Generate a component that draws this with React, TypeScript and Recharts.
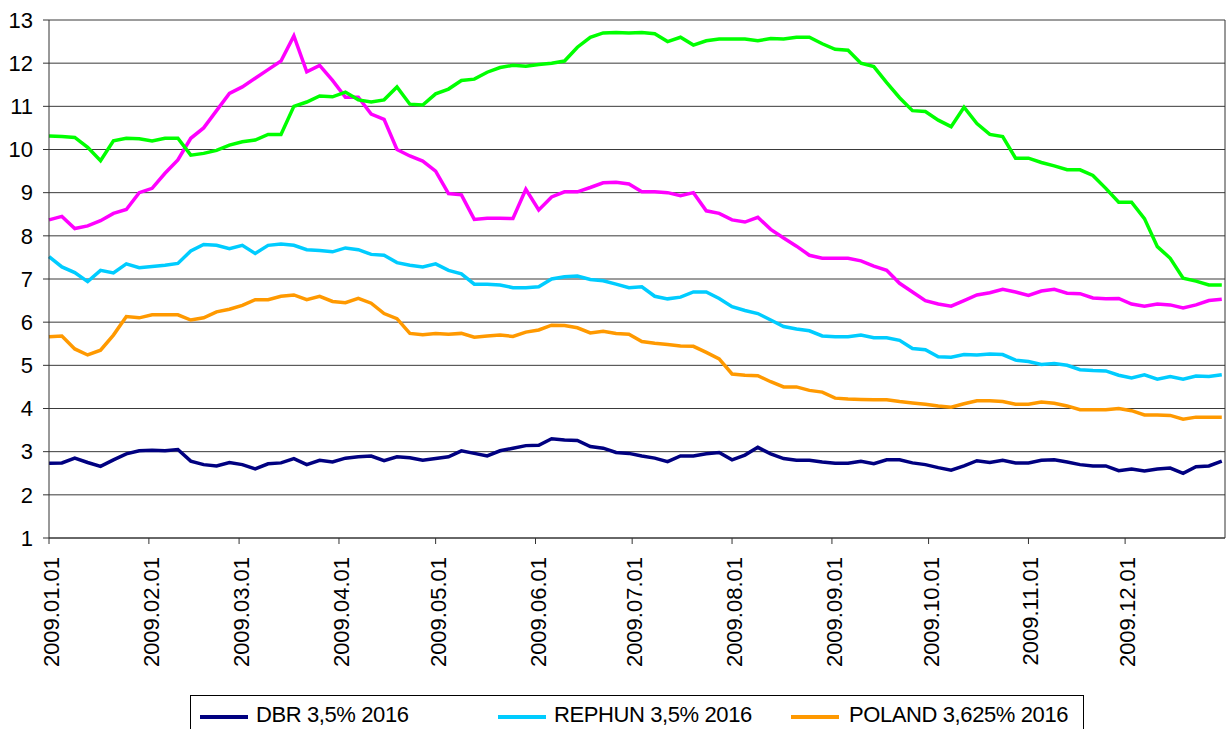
import React from 'react'
import { LineChart, Line, XAxis, YAxis, CartesianGrid, ReferenceLine } from 'recharts'

// day of year (2009), sampled every 4 days
const days = [
  0, 4, 8, 12, 16, 20, 24, 28, 32, 36, 40, 44, 48, 52, 56, 60, 64, 68, 72, 76, 80, 84, 88, 92,
  96, 100, 104, 108, 112, 116, 120, 124, 128, 132, 136, 140, 144, 148, 152, 156, 160, 164, 168, 172,
  176, 180, 184, 188, 192, 196, 200, 204, 208, 212, 216, 220, 224, 228, 232, 236, 240, 244, 248, 252,
  256, 260, 264, 268, 272, 276, 280, 284, 288, 292, 296, 300, 304, 308, 312, 316, 320, 324, 328, 332,
  336, 340, 344, 348, 352, 356, 360, 364,
]

const monthTicks = [0, 31, 59, 90, 120, 151, 181, 212, 243, 273, 304, 334]
const monthLabels = [
  '2009.01.01', '2009.02.01', '2009.03.01', '2009.04.01', '2009.05.01', '2009.06.01',
  '2009.07.01', '2009.08.01', '2009.09.01', '2009.10.01', '2009.11.01', '2009.12.01',
]
const yTicks = [1, 2, 3, 4, 5, 6, 7, 8, 9, 10, 11, 12, 13]

const dbr = [
  2.73, 2.74, 2.85, 2.75, 2.66, 2.81, 2.95, 3.02, 3.03, 3.02, 3.05, 2.78, 2.7, 2.67, 2.75, 2.7, 2.6, 2.72, 2.74, 2.84, 2.7, 2.8, 2.76, 2.85,
  2.88, 2.9, 2.79, 2.88, 2.86, 2.8, 2.84, 2.88, 3.02, 2.96, 2.9, 3.02, 3.08, 3.14, 3.15, 3.3, 3.27, 3.26, 3.12, 3.08,
  2.98, 2.96, 2.9, 2.85, 2.77, 2.9, 2.9, 2.95, 2.98, 2.81, 2.92, 3.1, 2.95, 2.84, 2.8, 2.8, 2.76, 2.73, 2.73, 2.78,
  2.72, 2.81, 2.81, 2.74, 2.7, 2.63, 2.57, 2.67, 2.79, 2.75, 2.8, 2.74, 2.74, 2.8, 2.81, 2.76, 2.7, 2.67, 2.67, 2.56,
  2.6, 2.55, 2.6, 2.62, 2.5, 2.65, 2.67, 2.78,
]

const rephun = [
  7.52, 7.28, 7.15, 6.94, 7.2, 7.14, 7.35, 7.26, 7.29, 7.32, 7.36, 7.65, 7.8, 7.78, 7.7, 7.78, 7.59, 7.78, 7.81, 7.78, 7.68, 7.66, 7.63, 7.72,
  7.68, 7.57, 7.55, 7.38, 7.32, 7.28, 7.35, 7.2, 7.12, 6.88, 6.88, 6.86, 6.8, 6.8, 6.82, 7.0, 7.05, 7.07, 6.99, 6.96,
  6.88, 6.8, 6.82, 6.6, 6.54, 6.58, 6.7, 6.7, 6.55, 6.36, 6.27, 6.2, 6.05, 5.9, 5.84, 5.8, 5.68, 5.66, 5.66, 5.7,
  5.64, 5.64, 5.58, 5.39, 5.36, 5.2, 5.19, 5.25, 5.24, 5.26, 5.25, 5.12, 5.09, 5.02, 5.04, 5.0, 4.9, 4.88, 4.87, 4.77,
  4.71, 4.78, 4.68, 4.74, 4.68, 4.75, 4.74, 4.78,
]

const poland = [
  5.66, 5.68, 5.38, 5.24, 5.35, 5.7, 6.13, 6.1, 6.17, 6.17, 6.17, 6.05, 6.1, 6.24, 6.3, 6.39, 6.52, 6.52, 6.6, 6.63, 6.52, 6.6, 6.48, 6.45,
  6.55, 6.44, 6.2, 6.08, 5.74, 5.71, 5.74, 5.72, 5.74, 5.65, 5.68, 5.7, 5.67, 5.77, 5.82, 5.93, 5.92, 5.87, 5.75, 5.79,
  5.74, 5.72, 5.55, 5.51, 5.48, 5.45, 5.44, 5.3, 5.15, 4.8, 4.77, 4.76, 4.62, 4.5, 4.5, 4.42, 4.38, 4.24, 4.22, 4.21,
  4.2, 4.2, 4.16, 4.13, 4.1, 4.06, 4.03, 4.11, 4.18, 4.18, 4.16, 4.1, 4.1, 4.15, 4.12, 4.06, 3.97, 3.97, 3.97, 4.0,
  3.95, 3.85, 3.85, 3.84, 3.75, 3.8, 3.8, 3.8,
]

// two more series whose legend entries fall outside the picture
const greenSeries = [
  10.31, 10.3, 10.28, 10.05, 9.74, 10.2, 10.26, 10.25, 10.2, 10.26, 10.26, 9.87, 9.91, 9.98, 10.1, 10.18, 10.22, 10.35, 10.35, 11.0, 11.1, 11.24, 11.22, 11.33,
  11.15, 11.1, 11.15, 11.45, 11.05, 11.03, 11.29, 11.4, 11.6, 11.63, 11.79, 11.9, 11.95, 11.93, 11.97, 12.0, 12.05, 12.37, 12.6, 12.7,
  12.71, 12.7, 12.71, 12.68, 12.5, 12.6, 12.42, 12.52, 12.56, 12.56, 12.56, 12.52, 12.57, 12.56, 12.6, 12.6, 12.45, 12.32, 12.3, 12.0,
  11.92, 11.55, 11.2, 10.9, 10.88, 10.68, 10.53, 10.98, 10.6, 10.35, 10.3, 9.8, 9.8, 9.7, 9.62, 9.53, 9.53, 9.4, 9.1, 8.78,
  8.78, 8.4, 7.75, 7.48, 7.02, 6.95, 6.86, 6.86,
]

const magentaSeries = [
  8.37, 8.45, 8.17, 8.23, 8.35, 8.52, 8.61, 9.0, 9.1, 9.45, 9.76, 10.26, 10.5, 10.9, 11.3, 11.45, 11.65, 11.85, 12.05, 12.63, 11.8, 11.95, 11.6, 11.21,
  11.21, 10.82, 10.7, 10.0, 9.85, 9.73, 9.5, 8.98, 8.95, 8.38, 8.41, 8.41, 8.4, 9.08, 8.6, 8.9, 9.02, 9.02, 9.12, 9.23,
  9.24, 9.2, 9.02, 9.02, 9.0, 8.93, 9.0, 8.58, 8.52, 8.37, 8.32, 8.43, 8.15, 7.95, 7.76, 7.55, 7.48, 7.48, 7.48, 7.42,
  7.3, 7.2, 6.9, 6.7, 6.5, 6.42, 6.37, 6.5, 6.63, 6.68, 6.76, 6.7, 6.62, 6.72, 6.76, 6.67, 6.66, 6.56, 6.54, 6.55,
  6.42, 6.37, 6.42, 6.4, 6.33, 6.4, 6.5, 6.53,
]

const data = days.map((day, i) => ({
  day,
  dbr: dbr[i],
  rephun: rephun[i],
  poland: poland[i],
  green: greenSeries[i],
  magenta: magentaSeries[i],
}))

const FONT = '"Liberation Sans", Arial, sans-serif'

function MonthTick({ x, y, payload }: any) {
  const label = monthLabels[monthTicks.indexOf(payload.value)]
  return (
    <text
      x={0}
      y={0}
      transform={`translate(${x + 10},${y + 13}) rotate(-90)`}
      textAnchor="end"
      fontSize={22}
      fontFamily={FONT}
      fill="#000"
    >
      {label}
    </text>
  )
}

const legendItems = [
  { label: 'DBR 3,5% 2016', color: '#000080', lineX: 9, textX: 65 },
  { label: 'REPHUN 3,5% 2016', color: '#00CCFF', lineX: 307, textX: 363 },
  { label: 'POLAND 3,625% 2016', color: '#FF9900', lineX: 600, textX: 658 },
]

export default function App() {
  return (
    <div style={{ position: 'absolute', left: 0, top: 0, width: 1226, height: 729, background: '#fff', overflow: 'hidden', fontFamily: FONT }}>
      <LineChart width={1226} height={729} data={data} margin={{ top: 20, right: 1, left: 0, bottom: 41 }}>
        <CartesianGrid vertical={false} stroke="#3a3a3a" strokeWidth={1} />
        <XAxis
          dataKey="day"
          type="number"
          domain={[0, 365]}
          ticks={monthTicks}
          interval={0}
          height={150}
          tickSize={6}
          tickMargin={0}
          tick={<MonthTick />}
          stroke="#333"
          tickLine={{ stroke: '#333' }}
        />
        <YAxis
          domain={[1, 13]}
          ticks={yTicks}
          interval={0}
          width={49}
          tickSize={6}
          tickMargin={10}
          stroke="#333"
          tick={{ fontSize: 22, fill: '#000', fontFamily: FONT }}
        />
        <ReferenceLine x={365} stroke="#333" />
        <Line type="linear" dataKey="dbr" name="DBR 3,5% 2016" stroke="#000080" strokeWidth={3.5} dot={false} isAnimationActive={false} />
        <Line type="linear" dataKey="rephun" name="REPHUN 3,5% 2016" stroke="#00CCFF" strokeWidth={3.5} dot={false} isAnimationActive={false} />
        <Line type="linear" dataKey="poland" name="POLAND 3,625% 2016" stroke="#FF9900" strokeWidth={3.5} dot={false} isAnimationActive={false} />
        <Line type="linear" dataKey="magenta" stroke="#FF00FF" strokeWidth={3.5} dot={false} isAnimationActive={false} />
        <Line type="linear" dataKey="green" stroke="#00FF00" strokeWidth={3.5} dot={false} isAnimationActive={false} />
      </LineChart>

      {/* legend box, cut off by the bottom edge */}
      <div style={{ position: 'absolute', left: 190, top: 695, width: 892, height: 50, border: '1px solid #000', background: '#fff' }}>
        {legendItems.map(it => (
          <React.Fragment key={it.label}>
            <div style={{ position: 'absolute', left: it.lineX, top: 19, width: 48, height: 4, background: it.color }} />
            <div style={{ position: 'absolute', left: it.textX, top: 5, fontSize: 22, lineHeight: '28px', whiteSpace: 'nowrap', color: '#000', letterSpacing: -0.4 }}>
              {it.label}
            </div>
          </React.Fragment>
        ))}
      </div>
    </div>
  )
}
